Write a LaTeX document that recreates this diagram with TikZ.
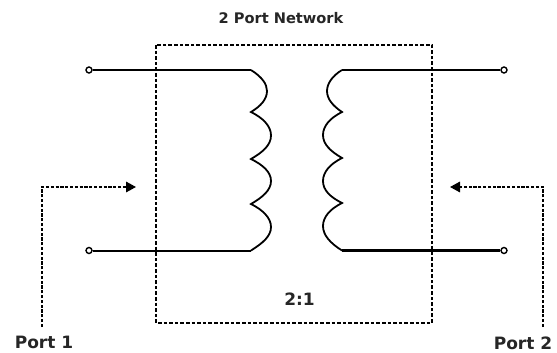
\documentclass[tikz,border=0pt]{standalone}
\usepackage{fontspec}
\setmainfont{DejaVu Sans}
\usetikzlibrary{arrows.meta}
\tikzset{
  x=1pt,y=-1pt,
  terminal/.style={circle,draw=black,fill=white,line width=1.4pt,inner sep=0pt,minimum size=6pt},
  wire/.style={line width=1.8pt,black},
  coil/.style={line width=1.8pt,black,line join=miter},
  boxline/.style={line width=2.4pt,black,dash pattern=on 3.6pt off 2pt},
  portline/.style={line width=1.7pt,black,dash pattern=on 3.2pt off 1.6pt},
  portarrow/.style={portline,-{Triangle[length=10pt,width=10.5pt,sep=0pt]}},
  lab/.style={font=\bfseries\fontsize{17}{19}\selectfont,text=black!85,inner sep=0pt},
  titlelab/.style={font=\bfseries\fontsize{14.6}{17}\selectfont,text=black!85,inner sep=0pt}
}
\begin{document}
\begin{tikzpicture}
\useasboundingbox (0,0) rectangle (557,353);
\fill[white] (0,0) rectangle (557,353);
% network box
\draw[boxline] (156,45) rectangle (432,323);
% terminals and coil ends
\node[terminal] (t1) at (89,70) {};
\node[terminal] (t2) at (89,250.5) {};
\node[terminal] (t3) at (504,70) {};
\node[terminal] (t4) at (504,250.5) {};
\coordinate (la) at (251,70);
\coordinate (lb) at (251,250.5);
\coordinate (ra) at (342,70);
\coordinate (rb) at (342,250.5);
\draw[wire] (t1) -- (la);
\draw[wire,line width=2pt] (t2) -- (lb);
\draw[wire] (t3) -- (ra);
\draw[wire,line width=2.6pt] (t4) -- (rb);
% left coil
\draw[coil] (la)
  .. controls (262,77) and (267,84) .. (267,91)
  .. controls (267,99) and (261,106) .. (251,112)
  .. controls (263,118) and (271,126) .. (271,135.5)
  .. controls (271,145) and (263,152) .. (251,159)
  .. controls (263,165) and (271,172) .. (271,181)
  .. controls (271,190) and (263,197) .. (251,204)
  .. controls (263,210) and (271,218) .. (271,227)
  .. controls (271,236) and (263,243) .. (lb);
% right coil
\draw[coil] (ra)
  .. controls (332,76) and (327,84) .. (327,91)
  .. controls (327,99) and (333,106) .. (342,112)
  .. controls (330,118) and (323,126) .. (323,135)
  .. controls (323,144) and (330,151) .. (342,158)
  .. controls (330,164) and (323,172) .. (323,181)
  .. controls (323,190) and (330,197) .. (342,203)
  .. controls (330,209) and (323,217) .. (323,226)
  .. controls (323,235) and (330,243) .. (rb);
% port arrows
\coordinate (p1a) at (42,327);
\coordinate (p1b) at (42,187);
\coordinate (p1c) at (136,187);
\coordinate (p2a) at (543,327);
\coordinate (p2b) at (543,187);
\coordinate (p2c) at (450,187);
\draw[portarrow] (p1a) -- (p1b) -- (p1c);
\draw[portarrow] (p2a) -- (p2b) -- (p2c);
% labels
\node[titlelab] (title) at (281,18) {2 Port Network};
\node[lab] (ratio) at (299.5,299) {2:1};
\node[lab] (port1) at (44,342) {Port 1};
\node[lab] (port2) at (523,343) {Port 2};
\end{tikzpicture}
\end{document}
